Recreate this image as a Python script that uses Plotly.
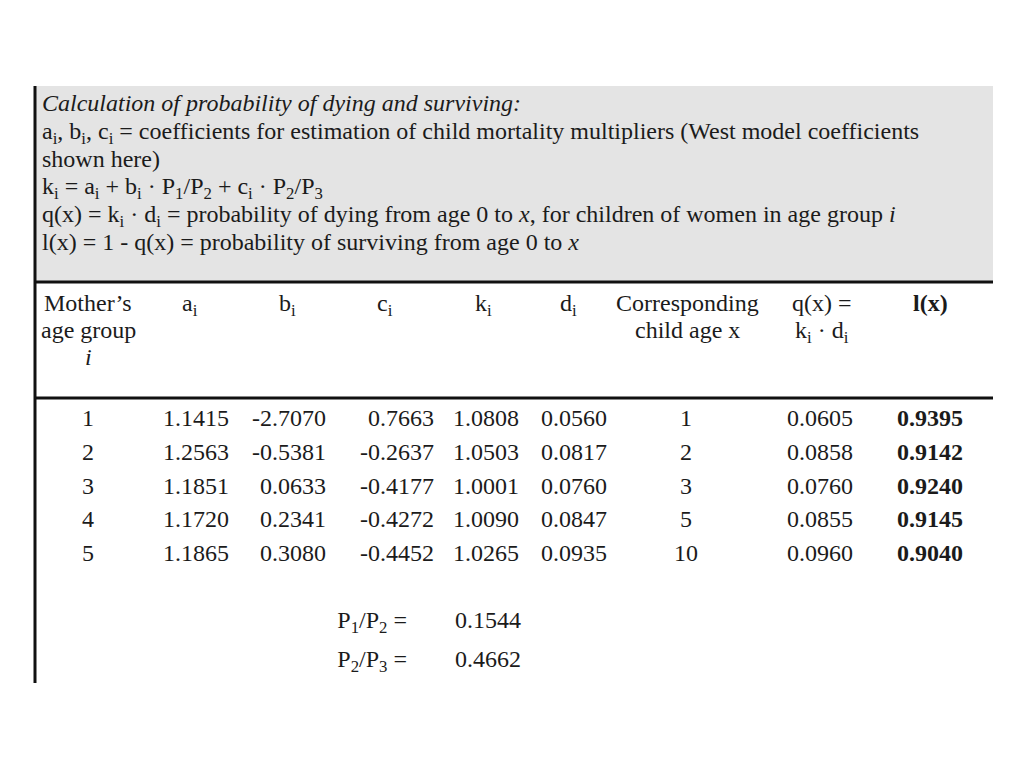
import plotly.graph_objects as go

# Table values (West model coefficients)
age_group = [1, 2, 3, 4, 5]
a_coef = [1.1415, 1.2563, 1.1851, 1.1720, 1.1865]
b_coef = [-2.7070, -0.5381, 0.0633, 0.2341, 0.3080]
c_coef = [0.7663, -0.2637, -0.4177, -0.4272, -0.4452]
k_val = [1.0808, 1.0503, 1.0001, 1.0090, 1.0265]
d_val = [0.0560, 0.0817, 0.0760, 0.0847, 0.0935]
child_age = [1, 2, 3, 5, 10]
q_x = [0.0605, 0.0858, 0.0760, 0.0855, 0.0960]
l_x = [0.9395, 0.9142, 0.9240, 0.9145, 0.9040]

ratio_labels = ["P<sub>1</sub>/P<sub>2</sub> =", "P<sub>2</sub>/P<sub>3</sub> ="]
ratio_values = [0.1544, 0.4662]

intro_lines = [
    "<i>Calculation of probability of dying and surviving:</i>",
    "a<sub>i</sub>, b<sub>i</sub>, c<sub>i</sub> = coefficients for estimation of child mortality multipliers (West model coefficients",
    "shown here)",
    "k<sub>i</sub> = a<sub>i</sub> + b<sub>i</sub> · P<sub>1</sub>/P<sub>2</sub> + c<sub>i</sub> · P<sub>2</sub>/P<sub>3</sub>",
    "q(x) = k<sub>i</sub> · d<sub>i</sub> = probability of dying from age 0 to <i>x</i>, for children of women in age group <i>i</i>",
    "l(x) = 1 - q(x) = probability of surviving from age 0 to <i>x</i>",
]

FONT = "Liberation Serif, Times New Roman, serif"
INK = "#1b1b1b"
FS = 24

fig = go.Figure()

# layout of the table (pixel-like coordinates)
row_y0, row_h = 420, 33.8
rows_y = [row_y0 + i * row_h for i in range(len(age_group))]


def col(x, vals, fmt, pos="middle left", bold=False):
    txt = [fmt.format(v) for v in vals]
    if bold:
        txt = ["<b>" + t + "</b>" for t in txt]
    fig.add_trace(go.Scatter(
        x=[x] * len(vals), y=rows_y, mode="text", text=txt,
        textposition=pos,
        textfont=dict(family=FONT, size=FS, color=INK),
        hoverinfo="skip", showlegend=False
    ))


col(88, age_group, "{}", pos="middle center")
col(229, a_coef, "{:.4f}")
col(326, b_coef, "{:.4f}")
col(434, c_coef, "{:.4f}")
col(519, k_val, "{:.4f}")
col(607, d_val, "{:.4f}")
col(686, child_age, "{}", pos="middle center")
col(853, q_x, "{:.4f}")
col(963, l_x, "{:.4f}", bold=True)

# P ratios below the table
ratio_y = [622, 661]
fig.add_trace(go.Scatter(
    x=[407] * 2, y=ratio_y, mode="text", text=ratio_labels,
    textposition="middle left",
    textfont=dict(family=FONT, size=FS, color=INK),
    hoverinfo="skip", showlegend=False
))
fig.add_trace(go.Scatter(
    x=[521] * 2, y=ratio_y, mode="text",
    text=[f"{v:.4f}" for v in ratio_values],
    textposition="middle left",
    textfont=dict(family=FONT, size=FS, color=INK),
    hoverinfo="skip", showlegend=False
))

# gray description box and rules
fig.add_shape(type="rect", x0=34, x1=993, y0=86, y1=282,
              fillcolor="#e4e4e4", line_width=0, layer="below")
fig.add_shape(type="line", x0=34, x1=993, y0=282, y1=282, line=dict(color="#111", width=3))
fig.add_shape(type="line", x0=34, x1=993, y0=398, y1=398, line=dict(color="#111", width=3))
fig.add_shape(type="line", x0=35, x1=35, y0=86, y1=683, line=dict(color="#111", width=3))

annos = []
for i, line in enumerate(intro_lines):
    annos.append(dict(x=40, y=102 + i * 27.8 - 14, text=line, xanchor="left", yanchor="top",
                      showarrow=False, font=dict(family=FONT, size=FS, color=INK)))

# column headers
headers = [
    (88, 302, "Mother’s"), (88, 329, "age group"), (88, 356, "<i>i</i>"),
    (190, 302, "a<sub>i</sub>"), (287, 302, "b<sub>i</sub>"), (385, 302, "c<sub>i</sub>"),
    (483, 302, "k<sub>i</sub>"), (568, 302, "d<sub>i</sub>"),
    (687, 302, "Corresponding"), (687, 329, "child age x"),
    (822, 302, "q(x) ="), (822, 329, "k<sub>i</sub> · d<sub>i</sub>"),
    (930, 302, "<b>l(x)</b>"),
]
for hx, hy, ht in headers:
    annos.append(dict(x=hx, y=hy - 14, text=ht, xanchor="center", yanchor="top",
                      showarrow=False, font=dict(family=FONT, size=FS, color=INK)))

fig.update_layout(
    width=1024, height=768,
    margin=dict(l=0, r=0, t=0, b=0),
    paper_bgcolor="white", plot_bgcolor="white",
    xaxis=dict(range=[0, 1024], visible=False, fixedrange=True),
    yaxis=dict(range=[768, 0], visible=False, fixedrange=True),
    annotations=annos,
)

fig.write_html("out.html", config={"displayModeBar": False},
               post_script="document.body.style.margin='0';")
